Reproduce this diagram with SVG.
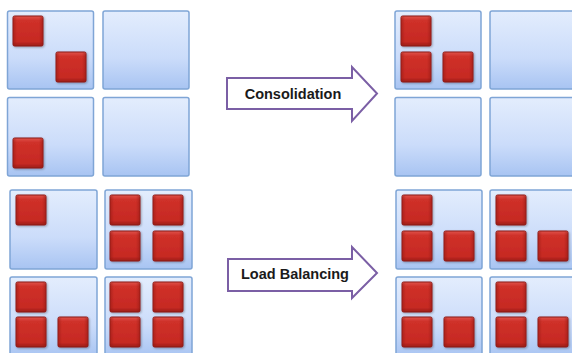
<svg xmlns="http://www.w3.org/2000/svg" width="572" height="353" viewBox="0 0 572 353">
<defs>
<linearGradient id="gBox" x1="0" y1="0" x2="0" y2="1">
<stop offset="0" stop-color="#e3edfd"/>
<stop offset="0.6" stop-color="#cbdcfa"/>
<stop offset="1" stop-color="#a8c4f2"/>
</linearGradient>
<linearGradient id="gRed" x1="0" y1="0" x2="0" y2="1">
<stop offset="0" stop-color="#e0524b"/>
<stop offset="0.15" stop-color="#cf3029"/>
<stop offset="0.85" stop-color="#c62a23"/>
<stop offset="1" stop-color="#9c1c16"/>
</linearGradient>
<linearGradient id="gRedH" x1="0" y1="0" x2="1" y2="0">
<stop offset="0" stop-color="#8f1712" stop-opacity="0.45"/>
<stop offset="0.12" stop-color="#8f1712" stop-opacity="0"/>
<stop offset="0.88" stop-color="#8f1712" stop-opacity="0"/>
<stop offset="1" stop-color="#8f1712" stop-opacity="0.45"/>
</linearGradient>
<filter id="sh" x="-10%" y="-10%" width="130%" height="130%">
<feDropShadow dx="1" dy="1" stdDeviation="0.8" flood-color="#000" flood-opacity="0.3"/>
</filter>
<g id="vm">
<rect x="0" y="0" width="30" height="30" rx="1.5" fill="url(#gRed)" stroke="#8a1a15" stroke-width="1" filter="url(#sh)"/>
<rect x="0.5" y="0.5" width="29" height="29" rx="1.5" fill="url(#gRedH)"/>
</g>
</defs>
<style>
.host{fill:url(#gBox);stroke:#7fa5d6;stroke-width:1.5}
.arrow{fill:#ffffff;stroke:#7b5fa5;stroke-width:2}
.lbl{font-family:"Liberation Sans",Arial,sans-serif;font-weight:bold;font-size:14.5px;fill:#1a1a1a}
</style>
<rect width="572" height="353" fill="#ffffff"/>

<g id="consolidation-before">
<rect class="host" x="7.5" y="11" width="86" height="78" rx="2"/>
<rect class="host" x="103" y="11" width="86" height="78" rx="2"/>
<rect class="host" x="7.5" y="97.5" width="86" height="78.5" rx="2"/>
<rect class="host" x="103" y="97.5" width="86" height="78.5" rx="2"/>
<use href="#vm" x="13" y="16"/>
<use href="#vm" x="56" y="52"/>
<use href="#vm" x="13" y="138"/>
</g>

<g id="consolidation-after">
<rect class="host" x="395" y="11" width="86" height="78" rx="2"/>
<rect class="host" x="490" y="11" width="86" height="78" rx="2"/>
<rect class="host" x="395" y="97.5" width="86" height="78.5" rx="2"/>
<rect class="host" x="490" y="97.5" width="86" height="78.5" rx="2"/>
<use href="#vm" x="401" y="16"/>
<use href="#vm" x="401" y="52"/>
<use href="#vm" x="443" y="52"/>
</g>

<g id="lb-before">
<rect class="host" x="10" y="190" width="87" height="79" rx="2"/>
<rect class="host" x="105" y="190" width="87" height="79" rx="2"/>
<rect class="host" x="10" y="277" width="87" height="80" rx="2"/>
<rect class="host" x="105" y="277" width="87" height="80" rx="2"/>
<use href="#vm" x="16" y="195"/>
<use href="#vm" x="110" y="195"/>
<use href="#vm" x="153" y="195"/>
<use href="#vm" x="110" y="231"/>
<use href="#vm" x="153" y="231"/>
<use href="#vm" x="16" y="282"/>
<use href="#vm" x="16" y="317"/>
<use href="#vm" x="58" y="317"/>
<use href="#vm" x="110" y="282"/>
<use href="#vm" x="153" y="282"/>
<use href="#vm" x="110" y="317"/>
<use href="#vm" x="153" y="317"/>
</g>

<g id="lb-after">
<rect class="host" x="396" y="190" width="86" height="79" rx="2"/>
<rect class="host" x="490" y="190" width="86" height="79" rx="2"/>
<rect class="host" x="396" y="277" width="86" height="80" rx="2"/>
<rect class="host" x="490" y="277" width="86" height="80" rx="2"/>
<use href="#vm" x="402" y="195"/>
<use href="#vm" x="402" y="231"/>
<use href="#vm" x="444" y="231"/>
<use href="#vm" x="496" y="195"/>
<use href="#vm" x="496" y="231"/>
<use href="#vm" x="538" y="231"/>
<use href="#vm" x="402" y="282"/>
<use href="#vm" x="402" y="317"/>
<use href="#vm" x="444" y="317"/>
<use href="#vm" x="496" y="282"/>
<use href="#vm" x="496" y="317"/>
<use href="#vm" x="538" y="317"/>
</g>

<g id="connectors">
<g id="arrow-consolidation">
<path class="arrow" d="M227,78 L352,78 L352,67 L377,93.5 L352,121 L352,109 L227,109 Z"/>
<text class="lbl" x="293" y="98.5" text-anchor="middle">Consolidation</text>
</g>
<g id="arrow-load-balancing">
<path class="arrow" d="M228,259 L352,259 L352,247 L377,273 L352,298 L352,291 L228,291 Z"/>
<text class="lbl" x="295" y="278.5" text-anchor="middle">Load Balancing</text>
</g>
</g>
</svg>
